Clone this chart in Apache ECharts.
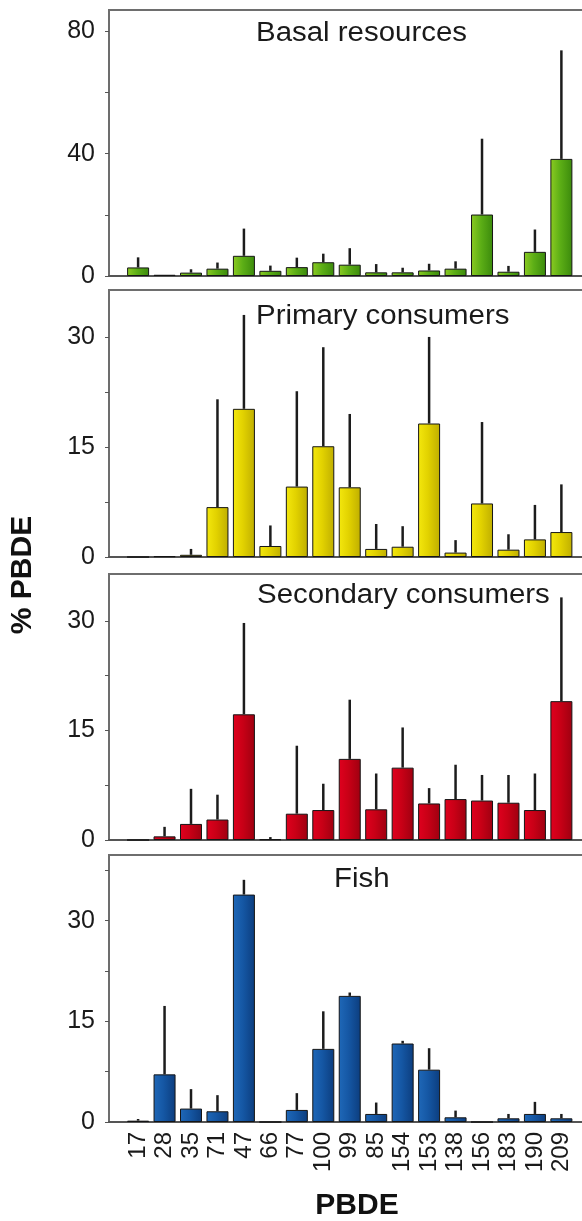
<!DOCTYPE html>
<html>
<head>
<meta charset="utf-8">
<script src="https://cdn.jsdelivr.net/npm/echarts@6/dist/echarts.min.js"></script>
<style>
html,body{margin:0;padding:0;background:#fff;}
#c{width:582px;height:1221px;}
</style>
</head>
<body>
<div id="c"></div>
<script>
const categories = ['17','28','35','71','47','66','77','100','99','85','154','153','138','156','183','190','209'];
const panelTitles = ['Basal resources','Primary consumers','Secondary consumers','Fish'];

const basalMean  = [2.8,0.4,1.1,2.4,6.6,1.7,2.9,4.5,3.7,1.2,1.2,1.8,2.4,20.1,1.4,7.9,38.3];
const basalUpper = [6.1,null,2.2,4.4,15.5,3.4,6.0,7.3,9.1,3.9,2.7,4.0,4.8,44.9,3.3,15.2,73.8];
const primaryMean  = [0,0.1,0.3,6.8,20.2,1.5,9.6,15.1,9.5,1.1,1.4,18.2,0.6,7.3,1.0,2.4,3.4];
const primaryUpper = [null,null,1.1,21.5,33.0,4.3,22.6,28.6,19.5,4.5,4.2,30.0,2.3,18.4,3.1,7.1,9.9];
const secondaryMean  = [0,0.5,2.2,2.8,17.2,0.1,3.6,4.1,11.1,4.2,9.9,5.0,5.6,5.4,5.1,4.1,19.0];
const secondaryUpper = [null,1.8,7.0,6.2,29.7,0.4,12.9,7.7,19.2,9.1,15.4,7.1,10.3,8.9,8.9,9.1,33.2];
const fishMean  = [0.2,7.1,2.0,1.6,33.9,0,1.8,10.9,18.8,1.2,11.7,7.8,0.7,0,0.55,1.2,0.55];
const fishUpper = [0.45,17.3,4.9,4.0,36.1,null,4.3,16.5,19.3,2.9,12.1,11.0,1.7,null,1.2,3.0,1.2];

const basalTicks = [0,20,40,60,80];
const basalLabels = [0,40,80];
const consumerTicks = [0,7.5,15,22.5,30];
const fishTicks = [0,7.5,15,22.5,30,37.5];
const consumerLabels = [0,15,30];

const means = [basalMean, primaryMean, secondaryMean, fishMean];
const uppers = [basalUpper, primaryUpper, secondaryUpper, fishUpper];
const yMax = [87, 36.4, 36.4, 39.8];
const tickSets = [basalTicks, consumerTicks, consumerTicks, fishTicks];
const labelSets = [basalLabels, consumerLabels, consumerLabels, consumerLabels];

const grids = [
  {top:10, height:266},
  {top:290, height:267},
  {top:574, height:266},
  {top:855, height:267}
];
const titlePos = [{x:256,y:33.7},{x:256,y:316.5},{x:257,y:595.5},{x:334,y:880}];

const gradients = [
  ['#8ccb22','#5cae16','#3b8a0c'],
  ['#f4e80e','#e2d200','#bfae00'],
  ['#e0001e','#c80016','#9e0010'],
  ['#1f68b8','#1557a4','#0c3d7e']
];
function grad(c){
  return {type:'linear',x:0,y:0,x2:1,y2:0,colorStops:[
    {offset:0,color:c[0]},{offset:0.45,color:c[1]},{offset:1,color:c[2]}]};
}

const FONT = 'Liberation Sans, Arial, sans-serif';
const chart = echarts.init(document.getElementById('c'), null, {renderer:'canvas'});

const option = {
  animation:false,
  backgroundColor:'#fff',
  grid: grids.map(g=>({left:109, width:500, top:g.top, height:g.height, show:true,
    borderColor:'#6e6e6e', borderWidth:2, containLabel:false, outerBoundsMode:'none'})),
  xAxis: grids.map((g,i)=>({
    gridIndex:i, type:'value', min:-1.1, max:17.8,
    axisLine:{show:true,onZero:false,lineStyle:{color:'#555',width:2}},
    axisTick:{show:false},
    splitLine:{show:false},
    axisLabel:{
      show:i===3, customValues: categories.map((c,k)=>k),
      formatter:(v)=>categories[v], rotate:90, margin:10,
      fontFamily:FONT, fontSize:24, color:'#1a1a1a'
    }
  })),
  yAxis: grids.map((g,i)=>({
    gridIndex:i, type:'value', min:0, max:yMax[i],
    axisLine:{show:true,onZero:false,lineStyle:{color:'#6e6e6e',width:1.5}},
    axisTick:{show:true,length:4,customValues:tickSets[i],lineStyle:{color:'#555',width:1}},
    axisLabel:{customValues:labelSets[i],margin:14,fontFamily:FONT,fontSize:25,color:'#1a1a1a'},
    splitLine:{show:false}
  })),
  graphic:[
    {type:'text', x:22.5, y:575, rotation:Math.PI/2,
      style:{text:'% PBDE', font:'bold 30px '+FONT, fill:'#111', textAlign:'center', textVerticalAlign:'middle'}},
    {type:'text', x:357, y:1206,
      style:{text:'PBDE', font:'bold 30px '+FONT, fill:'#111', textAlign:'center', textVerticalAlign:'middle'}}
  ].concat(panelTitles.map((t,i)=>({
    type:'text', x:titlePos[i].x, y:titlePos[i].y, scaleX:1.09, scaleY:1,
    style:{text:t, font:'27px '+FONT, fill:'#1a1a1a', textAlign:'left', textVerticalAlign:'middle'}
  }))),
  series: []
};

means.forEach((m,i)=>{
  option.series.push({
    type:'bar', xAxisIndex:i, yAxisIndex:i, barWidth:22,
    data: m.map((v,k)=>[k,v]),
    itemStyle:{color:grad(gradients[i]), borderColor:'#151515', borderWidth:1},
    z:2
  });
  option.series.push({
    type:'custom', xAxisIndex:i, yAxisIndex:i,
    data: m.map((v,k)=>[k,v,uppers[i][k]]).filter(d=>d[2]!==null),
    renderItem:(params,api)=>{
      const p0 = api.coord([api.value(0), api.value(1)]);
      const p1 = api.coord([api.value(0), api.value(2)]);
      return {type:'line', shape:{x1:p0[0],y1:p0[1],x2:p1[0],y2:p1[1]},
        style:{stroke:'#1c1c1c', lineWidth:2.5}};
    },
    z:3
  });
});

chart.setOption(option);
</script>
</body>
</html>
